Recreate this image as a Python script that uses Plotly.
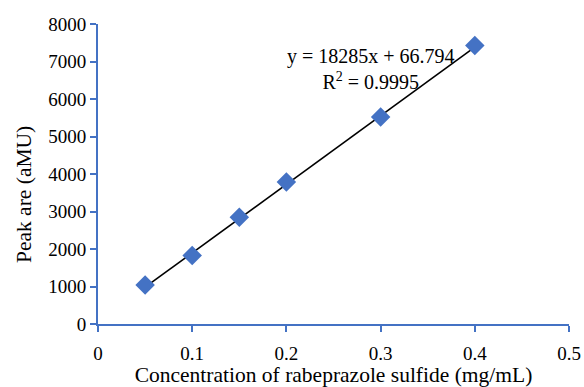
import plotly.graph_objects as go

# Calibration data: concentration (mg/mL) vs peak area (aMU)
concentration = [0.05, 0.1, 0.15, 0.2, 0.3, 0.4]
peak_area = [1040, 1830, 2850, 3790, 5520, 7430]

# Linear regression reported for the calibration
slope = 18285
intercept = 66.794
r_squared = 0.9995

x_ticks = [0, 0.1, 0.2, 0.3, 0.4, 0.5]
x_tick_labels = ["0", "0.1", "0.2", "0.3", "0.4", "0.5"]
y_ticks = [0, 1000, 2000, 3000, 4000, 5000, 6000, 7000, 8000]

blue = "#4472C4"
font_family = "Liberation Serif, Times New Roman, serif"

fit_x = [min(concentration), max(concentration)]
fit_y = [slope * v + intercept for v in fit_x]

fig = go.Figure()
fig.add_trace(go.Scatter(
    x=fit_x, y=fit_y, mode="lines",
    line=dict(color="black", width=1.6),
    showlegend=False, hoverinfo="skip",
))
fig.add_trace(go.Scatter(
    x=concentration, y=peak_area, mode="markers",
    marker=dict(symbol="diamond", size=15, color=blue),
    showlegend=False,
))

# Regression equation
fig.add_annotation(
    x=0.29, y=6800, xref="x", yref="y",
    text=f"y = {slope}x + {intercept}<br>R<sup>2</sup> = {r_squared}",
    showarrow=False, align="center",
    font=dict(family=font_family, size=20, color="black"),
)

# Vertical axis title, set slightly below the middle of the axis
fig.add_annotation(
    x=-0.157, y=0.43, xref="paper", yref="paper",
    text="Peak are (aMU)", textangle=-90, showarrow=False,
    xanchor="center", yanchor="middle",
    font=dict(family=font_family, size=21.5, color="black"),
)

fig.update_layout(
    width=584, height=387,
    margin=dict(l=98, r=15, t=24, b=63),
    paper_bgcolor="white", plot_bgcolor="white",
    font=dict(family=font_family, size=19, color="black"),
    xaxis=dict(
        range=[0, 0.5], tickvals=x_ticks, ticktext=x_tick_labels,
        showgrid=False, zeroline=False, automargin=False,
        showline=True, linecolor=blue, linewidth=2,
        ticks="outside", tickcolor=blue, tickwidth=2, ticklen=6,
        tickfont=dict(size=19), ticklabelstandoff=5,
        title=dict(text="Concentration of rabeprazole sulfide (mg/mL)",
                   font=dict(size=21.5), standoff=7),
    ),
    yaxis=dict(
        range=[0, 8000], tickvals=y_ticks,
        showgrid=False, zeroline=False, automargin=False,
        showline=True, linecolor=blue, linewidth=2,
        ticks="outside", tickcolor=blue, tickwidth=2, ticklen=6,
        tickfont=dict(size=19),
    ),
)

fig.write_html("out.html")
